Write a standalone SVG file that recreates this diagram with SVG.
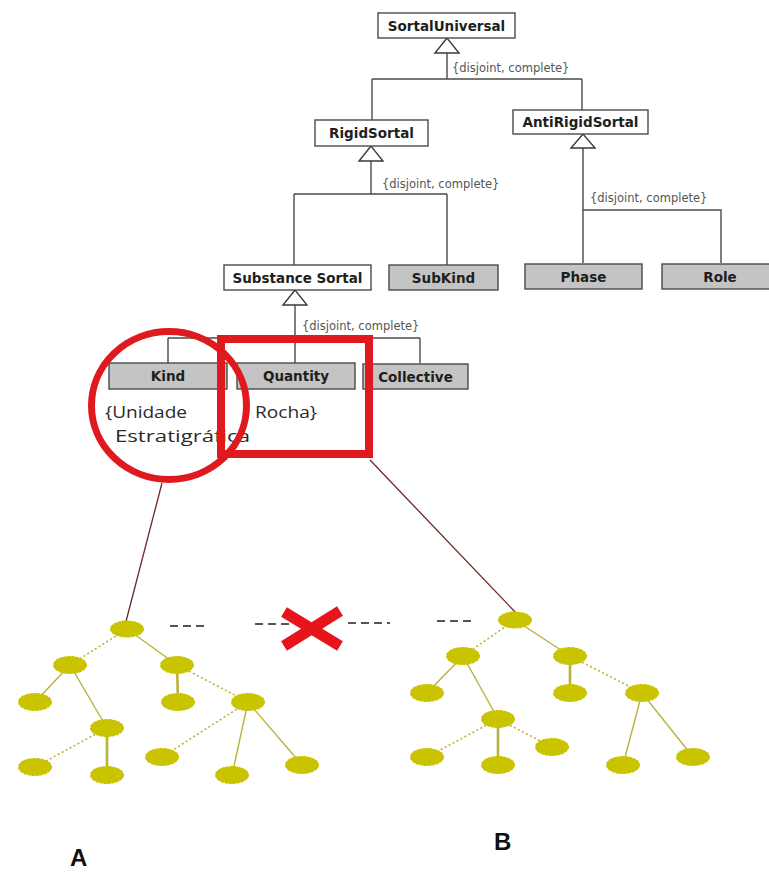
<svg xmlns="http://www.w3.org/2000/svg" width="769" height="874" viewBox="0 0 769 874">
  <style>
    .cls { stroke: #4a4a4a; stroke-width: 1.4; }
    .plain { fill: #ffffff; }
    .shaded { fill: #c4c4c4; }
    .name { font-family: "DejaVu Sans", Verdana, sans-serif; font-weight: bold; font-size: 13.5px; fill: #1e1e1e; text-anchor: middle; }
    .gs { font-family: "DejaVu Sans", Verdana, sans-serif; font-size: 11.5px; fill: #555555; }
    .uml { fill: none; stroke: #4a4a4a; stroke-width: 1.4; }
    .tri { fill: #ffffff; stroke: #3a3a3a; stroke-width: 1.4; }
    .note { font-family: "Open Sans", "DejaVu Sans", sans-serif; font-size: 16px; fill: #2a2a2a; }
    .mark { fill: none; stroke: #e0191f; }
    .lead { stroke: #6e2626; stroke-width: 1.3; fill: none; }
    .dash { stroke: #555555; stroke-width: 2; stroke-dasharray: 8 5; fill: none; }
    .edge { stroke: #b9b23c; stroke-width: 1.4; fill: none; }
    .edge.thick { stroke-width: 2.6; }
    .edge.dot { stroke-dasharray: 2 2.5; stroke-width: 1.6; }
    .tn { fill: #c9c300; stroke: #c9c300; stroke-width: 2; stroke-dasharray: 2 2; stroke-linecap: round; }
    .letter { font-family: "Liberation Sans", Arial, sans-serif; font-weight: bold; font-size: 24px; fill: #111111; }
  </style>

  <rect width="769" height="874" fill="#ffffff"/>

  <!-- generalization connectors -->
  <g id="connectors">
    <path class="uml" d="M447 53 V79 M372 79 H582 M372 79 V120 M582 79 V110"/>
    <path class="uml" d="M371 161 V194 M294 194 H447 M294 194 V265 M447 194 V265"/>
    <path class="uml" d="M583 148 V263 M583 210 H721 V263"/>
    <path class="uml" d="M295 305 V363 M168 338 H420 M168 338 V363 M420 338 V363"/>
    <path class="tri" d="M447 38 L435 53 H459 Z"/>
    <path class="tri" d="M371 146 L359 161 H383 Z"/>
    <path class="tri" d="M583 134 L571 148 H595 Z"/>
    <path class="tri" d="M295 290 L283 305 H307 Z"/>
    <text class="gs" x="452" y="72">{disjoint, complete}</text>
    <text class="gs" x="382" y="188">{disjoint, complete}</text>
    <text class="gs" x="590" y="202">{disjoint, complete}</text>
    <text class="gs" x="302" y="330">{disjoint, complete}</text>
  </g>

  <!-- classes -->
  <g id="sortal-universal">
    <rect class="cls plain" x="378" y="13" width="137" height="25"/>
    <text class="name" x="446.5" y="30.5">SortalUniversal</text>
  </g>
  <g id="rigid-sortal">
    <rect class="cls plain" x="315" y="120" width="113" height="26"/>
    <text class="name" x="371.5" y="138">RigidSortal</text>
  </g>
  <g id="anti-rigid-sortal">
    <rect class="cls plain" x="513" y="110" width="135" height="24"/>
    <text class="name" x="580.5" y="127">AntiRigidSortal</text>
  </g>
  <g id="substance-sortal">
    <rect class="cls plain" x="224" y="265" width="147" height="25"/>
    <text class="name" x="297.5" y="282.5">Substance Sortal</text>
  </g>
  <g id="subkind">
    <rect class="cls shaded" x="389" y="265" width="109" height="25"/>
    <text class="name" x="443.5" y="282.5">SubKind</text>
  </g>
  <g id="phase">
    <rect class="cls shaded" x="525" y="264" width="117" height="25"/>
    <text class="name" x="583.5" y="281.5">Phase</text>
  </g>
  <g id="role">
    <rect class="cls shaded" x="662" y="264" width="110" height="25"/>
    <text class="name" x="720" y="281.5">Role</text>
  </g>
  <g id="kind">
    <rect class="cls shaded" x="109" y="363" width="118" height="26"/>
    <text class="name" x="168" y="381">Kind</text>
  </g>
  <g id="quantity">
    <rect class="cls shaded" x="237" y="363" width="118" height="26"/>
    <text class="name" x="296" y="381">Quantity</text>
  </g>
  <g id="collective">
    <rect class="cls shaded" x="363" y="364" width="105" height="25"/>
    <text class="name" x="415.5" y="382">Collective</text>
  </g>

  <!-- instance notes -->
  <g id="notes">
    <text class="note" x="105" y="418" textLength="82" lengthAdjust="spacingAndGlyphs">{Unidade</text>
    <text class="note" x="115" y="442" textLength="135" lengthAdjust="spacingAndGlyphs">Estratigráfica</text>
    <text class="note" x="255" y="418" textLength="62" lengthAdjust="spacingAndGlyphs">Rocha}</text>
  </g>

  <!-- highlight marks -->
  <g id="highlights">
    <rect class="mark" x="221" y="339" width="148" height="115" stroke-width="8"/>
    <ellipse class="mark" cx="169" cy="405.5" rx="77.5" ry="74" stroke-width="7"/>
    <line class="lead" x1="162" y1="483" x2="123" y2="633"/>
    <line class="lead" x1="370" y1="460" x2="517" y2="614"/>
  </g>

  <!-- links between the trees -->
  <g id="tree-links">
    <line class="dash" x1="170" y1="626" x2="208" y2="626"/>
    <line class="dash" x1="255" y1="624" x2="292" y2="624"/>
    <line class="dash" x1="348" y1="623" x2="390" y2="623"/>
    <line class="dash" x1="437" y1="621" x2="473" y2="621"/>
    <path d="M284 612 L340 646 M284 646 L340 611" stroke="#e8141c" stroke-width="11" fill="none"/>
  </g>

  <!-- tree A -->
  <g id="tree-a">
    <line class="edge dot" x1="127" y1="629" x2="70" y2="665"/>
    <line class="edge" x1="127" y1="629" x2="177" y2="665"/>
    <line class="edge" x1="70" y1="665" x2="35" y2="702"/>
    <line class="edge" x1="70" y1="665" x2="107" y2="728"/>
    <line class="edge thick" x1="177" y1="665" x2="178" y2="702"/>
    <line class="edge dot" x1="177" y1="665" x2="248" y2="702"/>
    <line class="edge dot" x1="107" y1="728" x2="35" y2="767"/>
    <line class="edge thick" x1="107" y1="728" x2="107" y2="775"/>
    <line class="edge dot" x1="248" y1="702" x2="162" y2="757"/>
    <line class="edge" x1="248" y1="702" x2="232" y2="775"/>
    <line class="edge" x1="248" y1="702" x2="302" y2="765"/>
    <ellipse class="tn" cx="127" cy="629" rx="16" ry="7.5"/>
    <ellipse class="tn" cx="70" cy="665" rx="16" ry="8"/>
    <ellipse class="tn" cx="177" cy="665" rx="16" ry="8"/>
    <ellipse class="tn" cx="35" cy="702" rx="16" ry="8"/>
    <ellipse class="tn" cx="178" cy="702" rx="16" ry="8"/>
    <ellipse class="tn" cx="248" cy="702" rx="16" ry="8"/>
    <ellipse class="tn" cx="107" cy="728" rx="16" ry="8"/>
    <ellipse class="tn" cx="35" cy="767" rx="16" ry="8"/>
    <ellipse class="tn" cx="107" cy="775" rx="16" ry="8"/>
    <ellipse class="tn" cx="162" cy="757" rx="16" ry="8"/>
    <ellipse class="tn" cx="232" cy="775" rx="16" ry="8"/>
    <ellipse class="tn" cx="302" cy="765" rx="16" ry="8"/>
  </g>

  <!-- tree B -->
  <g id="tree-b">
    <line class="edge dot" x1="515" y1="620" x2="463" y2="656"/>
    <line class="edge" x1="515" y1="620" x2="570" y2="656"/>
    <line class="edge" x1="463" y1="656" x2="427" y2="693"/>
    <line class="edge" x1="463" y1="656" x2="498" y2="719"/>
    <line class="edge thick" x1="570" y1="656" x2="570" y2="693"/>
    <line class="edge dot" x1="570" y1="656" x2="642" y2="693"/>
    <line class="edge dot" x1="498" y1="719" x2="427" y2="757"/>
    <line class="edge thick" x1="498" y1="719" x2="498" y2="765"/>
    <line class="edge dot" x1="498" y1="719" x2="552" y2="747"/>
    <line class="edge" x1="642" y1="693" x2="623" y2="765"/>
    <line class="edge" x1="642" y1="693" x2="693" y2="757"/>
    <ellipse class="tn" cx="515" cy="620" rx="16" ry="7.5"/>
    <ellipse class="tn" cx="463" cy="656" rx="16" ry="8"/>
    <ellipse class="tn" cx="570" cy="656" rx="16" ry="8"/>
    <ellipse class="tn" cx="427" cy="693" rx="16" ry="8"/>
    <ellipse class="tn" cx="570" cy="693" rx="16" ry="8"/>
    <ellipse class="tn" cx="642" cy="693" rx="16" ry="8"/>
    <ellipse class="tn" cx="498" cy="719" rx="16" ry="8"/>
    <ellipse class="tn" cx="427" cy="757" rx="16" ry="8"/>
    <ellipse class="tn" cx="498" cy="765" rx="16" ry="8"/>
    <ellipse class="tn" cx="552" cy="747" rx="16" ry="8"/>
    <ellipse class="tn" cx="623" cy="765" rx="16" ry="8"/>
    <ellipse class="tn" cx="693" cy="757" rx="16" ry="8"/>
  </g>

  <!-- view labels -->
  <g id="labels">
    <text class="letter" x="70" y="866">A</text>
    <text class="letter" x="494" y="850">B</text>
  </g>
</svg>
